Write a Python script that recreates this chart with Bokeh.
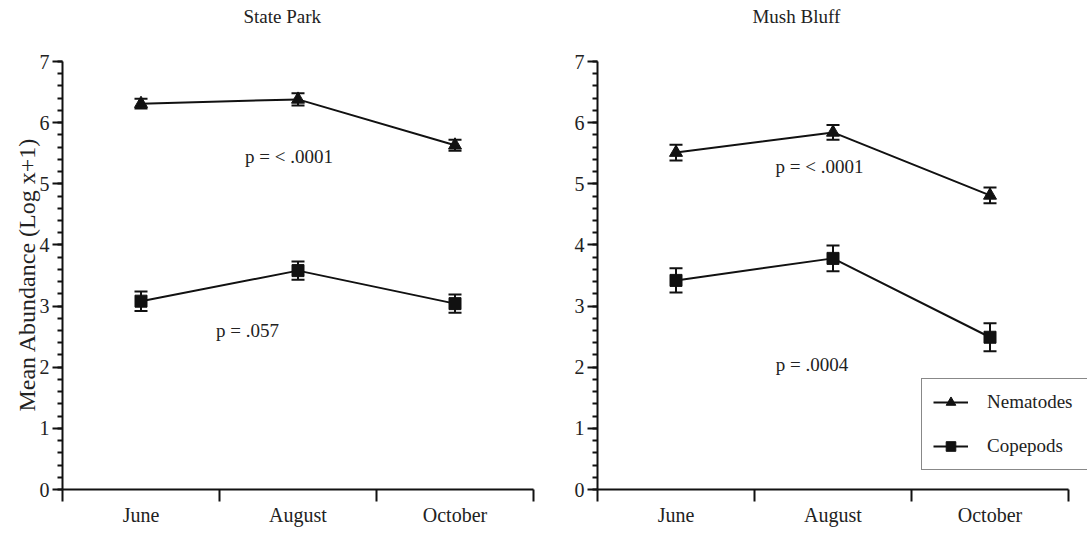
from bokeh.plotting import figure
from bokeh.layouts import row
from bokeh.models import (ColumnDataSource, FixedTicker, Range1d, Whisker, TeeHead,
                          Label, Legend, LegendItem)
from bokeh.embed import file_html
from bokeh.resources import INLINE

# ---- data ----
months = ["June", "August", "October"]
sites = ["State Park", "Mush Bluff"]
series = ["Nematodes", "Copepods"]

sp_nem = [6.31, 6.38, 5.63]
sp_nem_se = [0.08, 0.10, 0.09]
sp_cop = [3.08, 3.58, 3.04]
sp_cop_se = [0.16, 0.15, 0.15]

mb_nem = [5.51, 5.84, 4.81]
mb_nem_se = [0.13, 0.12, 0.13]
mb_cop = [3.42, 3.78, 2.49]
mb_cop_se = [0.20, 0.21, 0.23]

sp_pvals = ["p = < .0001", "p = .057"]
mb_pvals = ["p = < .0001", "p = .0004"]
y_ticks = [0, 1, 2, 3, 4, 5, 6, 7]
y_max = 7
y_title = "Mean Abundance (Log x+1)"

# ---- styling / placement ----
FONT = "Liberation Serif"
TXT = "#222222"
INK = "#111111"
sp_pval_pos = [(1.443, 5.45), (1.178, 2.60)]
mb_pval_pos = [(1.414, 5.28), (1.366, 2.04)]
title_pos = [(1.153, 7.736), (0.987, 7.736)]
Y_TOP = y_max + 56 / (428 / 7)     # extra room above the axis for the panel title
PAD = "\u00a0" * 9                 # keeps the axis title centred on the 0-7 axis

xs = [i + 0.5 for i in range(len(months))]


def make_panel(title, nem, nem_se, cop, cop_se, pvals, ppos, tpos,
               border_left, border_right, frame_w, x_end, with_legend, with_ylabel):
    p = figure(frame_width=frame_w, frame_height=484, output_backend="svg",
               toolbar_location=None, x_range=Range1d(0, x_end), y_range=Range1d(0, Y_TOP),
               min_border_left=border_left, min_border_right=border_right,
               min_border_top=5, min_border_bottom=34)
    p.outline_line_color = None
    p.xgrid.visible = False
    p.ygrid.visible = False
    p.background_fill_color = "white"
    p.border_fill_color = "white"

    # x axis: ticks at category boundaries, labels at centres
    xa = p.xaxis[0]
    xa.ticker = FixedTicker(ticks=xs, minor_ticks=list(range(len(months) + 1)))
    xa.major_label_overrides = {x: m for x, m in zip(xs, months)}
    xa.bounds = (0, len(months))
    xa.major_tick_out = 0
    xa.major_tick_in = 0
    xa.minor_tick_out = 12
    xa.minor_tick_in = 0
    xa.minor_tick_line_width = 2
    xa.minor_tick_line_color = INK
    xa.axis_line_width = 2
    xa.axis_line_color = INK
    xa.major_label_text_font = FONT
    xa.major_label_text_font_size = "20px"
    xa.major_label_text_color = TXT
    xa.major_label_standoff = 2

    ya = p.yaxis[0]
    ya.bounds = (0, y_max)
    ya.ticker = FixedTicker(ticks=y_ticks, minor_ticks=[round(i * 0.2, 1) for i in range(36)])
    ya.major_tick_out = 10
    ya.major_tick_in = 0
    ya.minor_tick_out = 5
    ya.minor_tick_in = 0
    ya.major_tick_line_width = 2
    ya.minor_tick_line_width = 2
    ya.major_tick_line_color = INK
    ya.minor_tick_line_color = INK
    ya.axis_line_width = 2
    ya.axis_line_color = INK
    ya.major_label_text_font = FONT
    ya.major_label_text_font_size = "20px"
    ya.major_label_text_color = TXT
    ya.major_label_standoff = 3
    if with_ylabel:
        ya.axis_label = y_title + PAD
        ya.axis_label_text_font = FONT
        ya.axis_label_text_font_size = "24px"
        ya.axis_label_text_font_style = "normal"
        ya.axis_label_text_color = TXT
        ya.axis_label_standoff = -3

    items = []
    for name, vals, se, marker in [("Nematodes", nem, nem_se, "triangle"),
                                   ("Copepods", cop, cop_se, "square")]:
        src = ColumnDataSource(dict(x=xs, y=vals,
                                    lo=[v - e for v, e in zip(vals, se)],
                                    hi=[v + e for v, e in zip(vals, se)]))
        lr = p.line("x", "y", source=src, line_color=INK, line_width=2)
        w = Whisker(base="x", upper="hi", lower="lo", source=src, dimension="height",
                    line_color=INK, line_width=2,
                    upper_head=TeeHead(size=13, line_color=INK, line_width=2),
                    lower_head=TeeHead(size=13, line_color=INK, line_width=2))
        p.add_layout(w)
        sr = p.scatter("x", "y", source=src, marker=marker,
                       size=13 if marker == "triangle" else 12,
                       fill_color=INK, line_color=INK)
        items.append(LegendItem(label=name, renderers=[lr, sr]))

    for txt, (px, py) in zip(pvals, ppos):
        p.add_layout(Label(x=px, y=py, text=txt, text_font=FONT, text_font_size="19px",
                           text_color=TXT, text_align="center", text_baseline="middle"))

    p.add_layout(Label(x=tpos[0], y=tpos[1], text=title, text_font=FONT,
                       text_font_size="19px", text_color=TXT,
                       text_align="left", text_baseline="middle"))

    if with_legend:
        leg = Legend(items=items, location=(324, 19), margin=0, padding=11,
                     spacing=20, label_height=24, glyph_height=24, glyph_width=35,
                     label_standoff=19, label_width=97,
                     label_text_font=FONT, label_text_font_size="19px",
                     label_text_color=TXT, border_line_color=INK, border_line_width=1.5,
                     background_fill_alpha=1.0)
        p.add_layout(leg)
    return p


left = make_panel(sites[0], sp_nem, sp_nem_se, sp_cop, sp_cop_se, sp_pvals, sp_pval_pos,
                  title_pos[0], 62, 30, 471, 3.0, False, True)
right = make_panel(sites[1], mb_nem, mb_nem_se, mb_cop, mb_cop_se, mb_pvals, mb_pval_pos,
                   title_pos[1], 34, 0, 490, 3.0 + 19 / 157, True, False)

layout = row(left, right)
open("out.html", "w").write(file_html(layout, INLINE))
